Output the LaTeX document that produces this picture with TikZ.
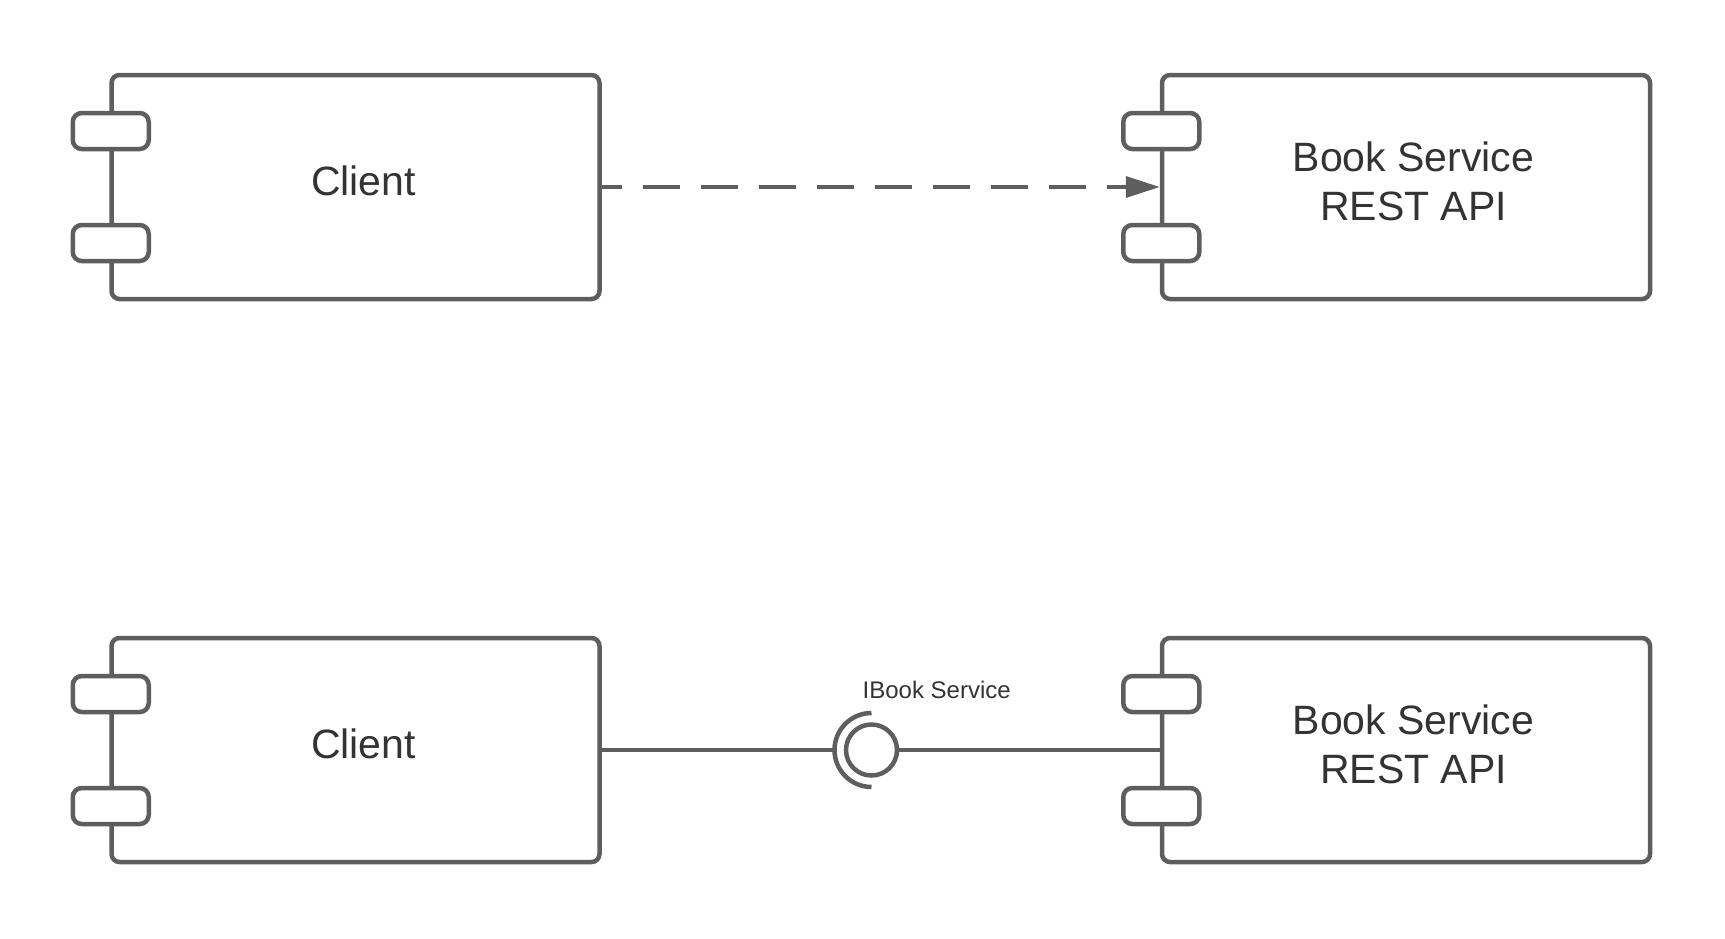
\documentclass[tikz,border=0pt]{standalone}
\usepackage{fontspec}
\setmainfont{Liberation Sans}
\usetikzlibrary{arrows.meta,calc}
\definecolor{edge}{HTML}{5E5E5E}
\definecolor{ink}{HTML}{333333}
\begin{document}
\begin{tikzpicture}[x=1pt,y=-1pt,
  component/.style={draw=edge, line width=4.5pt, rounded corners=8pt,
    minimum width=488pt, minimum height=224pt, inner sep=0pt},
  port/.style={draw=edge, line width=4.5pt, rounded corners=9pt, fill=white,
    minimum width=76pt, minimum height=36pt, inner sep=0pt},
  bigtext/.style={text=ink, inner sep=0pt, align=center,
    font=\fontsize{41}{49}\selectfont},
  smalltext/.style={text=ink, inner sep=0pt, font=\fontsize{24}{29}\selectfont},
  wire/.style={draw=edge, line width=3.8pt},
  depends/.style={draw=edge, line width=3.5pt, dash pattern=on 37pt off 21pt,
    dash phase=17pt, -{Triangle[length=34pt,width=21pt]}},
]
\useasboundingbox (0,0) rectangle (1725,938);

% top row: dependency
\node[component] (c1) at (355.5,187) {};
\node[component] (b1) at (1406,187) {};
% bottom row: provided / required interface
\node[component] (c2) at (355.5,750) {};
\node[component] (b2) at (1406,750) {};

% component ports on the left edge
\foreach \n in {c1,b1,c2,b2}{
  \node[port] (\n-pa) at ($(\n.west)+(1.5,-56)$) {};
  \node[port] (\n-pb) at ($(\n.west)+(1.5,56)$) {};
}

% labels
\node[bigtext] (c1t) at (363.5,181) {Client};
\node[bigtext] (b1t) at (1413.5,181) {Book Service\\REST API};
\node[bigtext] (c2t) at (363.5,744) {Client};
\node[bigtext] (b2t) at (1413.5,744) {Book Service\\REST API};

% dashed dependency arrow
\draw[depends] (c1.east) -- (b1.west);

% lollipop and socket
\node[circle, draw=edge, line width=4.5pt, minimum size=51pt, inner sep=0pt] (iface) at (871.5,750) {};
\coordinate (sock) at ($(iface.center)+(-37,0)$);
\draw[draw=edge, line width=4.5pt] ($(iface.center)+(0,-37)$) arc[start angle=90, end angle=270, radius=37pt];
\draw[wire] (c2.east) -- (sock);
\draw[wire] (iface.east) -- (b2.west);
\node[smalltext] (ilabel) at (936.7,690) {IBook Service};
\end{tikzpicture}
\end{document}
